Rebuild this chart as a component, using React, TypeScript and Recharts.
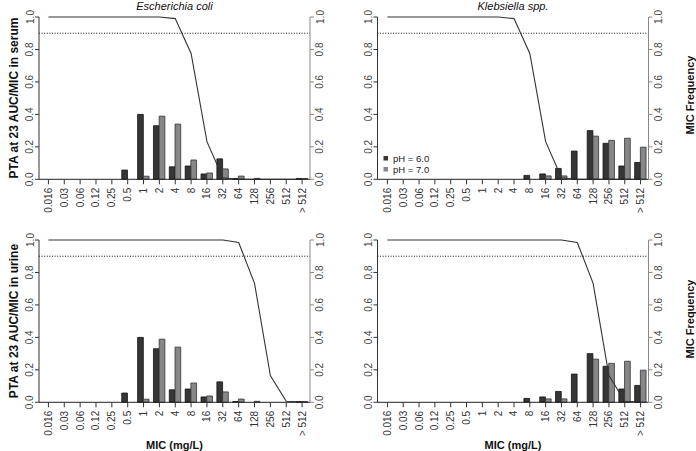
import React from 'react';
import { ComposedChart, Bar, Line, XAxis, YAxis, ReferenceLine, Legend } from 'recharts';

const micLabels = ['0.016', '0.03', '0.06', '0.12', '0.25', '0.5', '1', '2', '4', '8', '16', '32', '64', '128', '256', '512', '> 512'];

const ecoliPh6 = [0, 0, 0, 0, 0, 0.057, 0.4, 0.33, 0.077, 0.082, 0.033, 0.126, 0.005, 0, 0, 0, 0.005];
const ecoliPh7 = [0, 0, 0, 0, 0, 0, 0.019, 0.389, 0.34, 0.119, 0.039, 0.064, 0.02, 0.006, 0, 0, 0.005];
const klebPh6 = [0, 0, 0, 0, 0, 0, 0, 0, 0, 0.024, 0.033, 0.067, 0.174, 0.3, 0.222, 0.082, 0.104];
const klebPh7 = [0, 0, 0, 0, 0, 0, 0, 0, 0, 0, 0.021, 0.021, 0, 0.266, 0.24, 0.253, 0.198];

const ptaSerum = [1, 1, 1, 1, 1, 1, 1, 1, 0.99, 0.775, 0.232, 0.01, 0, 0, 0, 0, 0];
const ptaUrine = [1, 1, 1, 1, 1, 1, 1, 1, 1, 1, 1, 1, 0.985, 0.733, 0.165, 0.006, 0.002];

const yTicks = [0, 0.2, 0.4, 0.6, 0.8, 1];
const seriesNames = ['pH = 6.0', 'pH = 7.0'];

const FONT = '"Liberation Sans", Arial, Helvetica, sans-serif';
const DARK = '#363636';
const GRAY = '#878787';

const buildRows = (ph6: number[], ph7: number[], pta: number[]) =>
  micLabels.map((mic, i) => ({ mic, ph6: ph6[i], ph7: ph7[i], pta: pta[i] }));

const XTick = (props: any) => {
  const { x, y, payload } = props;
  const yy = y + 1.5;
  return (
    <text x={x} y={yy} transform={`rotate(-90, ${x}, ${yy})`} textAnchor="end" dy="0.35em"
      fontSize={10} fill="#333" fontFamily={FONT}>
      {payload.value}
    </text>
  );
};

const YTickLeft = (props: any) => {
  const { x, y, payload } = props;
  const xx = x - 3;
  return (
    <text x={xx} y={y} transform={`rotate(-90, ${xx}, ${y})`} textAnchor="middle" dy="0.35em"
      fontSize={10} fill="#444" fontFamily={FONT}>
      {Number(payload.value).toFixed(1)}
    </text>
  );
};

const YTickRight = (props: any) => {
  const { x, y, payload } = props;
  const xx = x + 4;
  return (
    <text x={xx} y={y} transform={`rotate(-90, ${xx}, ${y})`} textAnchor="middle" dy="0.35em"
      fontSize={10} fill="#444" fontFamily={FONT}>
      {Number(payload.value).toFixed(1)}
    </text>
  );
};

const LegendContent = () => (
  <svg width={80} height={24} style={{ display: 'block' }}>
    {seriesNames.map((n, i) => (
      <g key={n}>
        <rect x={1.5} y={4 + i * 11} width={4.5} height={4.5} fill={i === 0 ? DARK : GRAY} />
        <text x={11} y={6.3 + i * 11} dy="0.35em" fontSize={9.5} fill="#222" fontFamily={FONT}>{n}</text>
      </g>
    ))}
  </svg>
);

type PanelProps = {
  left: number; top: number; width: number; height: number; marginTop: number;
  yLeftW: number; yRightW: number; xH: number; padLeft: number;
  data: any[]; showLegend?: boolean;
};

const Panel = (p: PanelProps) => (
  <div style={{ position: 'absolute', left: p.left, top: p.top, width: p.width, height: p.height }}>
    <ComposedChart width={p.width} height={p.height} data={p.data}
      margin={{ top: p.marginTop, right: 0, bottom: 0, left: 0 }} barSize={5.7} barGap={0}>
      <XAxis dataKey="mic" type="category" interval={0} height={p.xH} padding={{ left: p.padLeft, right: 0 }}
        tick={<XTick />} tickSize={5} tickMargin={2} stroke="#222" tickLine={{ stroke: '#333' }} />
      <YAxis yAxisId="left" orientation="left" type="number" domain={[0, 1]} ticks={yTicks} interval={0}
        width={p.yLeftW} tick={<YTickLeft />} tickSize={4} tickMargin={2} stroke="#333" />
      <YAxis yAxisId="right" orientation="right" type="number" domain={[0, 1]} ticks={yTicks} interval={0}
        width={p.yRightW} tick={<YTickRight />} tickSize={4} tickMargin={2} stroke="#888" />
      <Bar yAxisId="right" dataKey="ph6" name={seriesNames[0]} fill={DARK} stroke="#111" strokeWidth={0.8} isAnimationActive={false} />
      <Bar yAxisId="right" dataKey="ph7" name={seriesNames[1]} fill={GRAY} stroke="#333" strokeWidth={0.8} isAnimationActive={false} />
      <ReferenceLine yAxisId="left" y={0.9} stroke="#111" strokeDasharray="1 1.6" strokeWidth={1} />
      <Line yAxisId="left" type="linear" dataKey="pta" stroke="#333" strokeWidth={1.1} dot={false} isAnimationActive={false} legendType="none" />
      {p.showLegend && (
        <Legend layout="vertical" align="center" verticalAlign="middle" content={<LegendContent />}
          wrapperStyle={{ position: 'absolute', left: 34, top: 152, width: 80, height: 24 }} />
      )}
    </ComposedChart>
  </div>
);

export default function App() {
  const ecoliSerum = buildRows(ecoliPh6, ecoliPh7, ptaSerum);
  const klebSerum = buildRows(klebPh6, klebPh7, ptaSerum);
  const ecoliUrine = buildRows(ecoliPh6, ecoliPh7, ptaUrine);
  const klebUrine = buildRows(klebPh6, klebPh7, ptaUrine);
  return (
    <div style={{ position: 'absolute', left: 0, top: 0, width: 696, height: 451, background: '#fff', fontFamily: FONT }}>
      <Panel left={0} top={0} width={348} height={225} marginTop={17} yLeftW={39} yRightW={38} xH={45.7} padLeft={1.5} data={ecoliSerum} />
      <Panel left={348} top={0} width={348} height={225} marginTop={17} yLeftW={29.5} yRightW={47.5} xH={45.7} padLeft={2} data={klebSerum} showLegend />
      <Panel left={0} top={225} width={348} height={226} marginTop={15} yLeftW={39} yRightW={38} xH={48.7} padLeft={1.5} data={ecoliUrine} />
      <Panel left={348} top={225} width={348} height={226} marginTop={15} yLeftW={29.5} yRightW={47.5} xH={48.7} padLeft={2} data={klebUrine} />
      <svg width={696} height={451} style={{ position: 'absolute', left: 0, top: 0, pointerEvents: 'none' }}>
        <text x={174.5} y={10} textAnchor="middle" fontSize={11} fontStyle="italic" fill="#111" fontFamily={FONT}>Escherichia coli</text>
        <text x={513} y={10} textAnchor="middle" fontSize={11} fontStyle="italic" fill="#111" fontFamily={FONT}>Klebsiella spp.</text>
        <text x={14} y={98} transform="rotate(-90, 14, 98)" textAnchor="middle" dy="0.35em" fontSize={12} fontWeight="bold" fill="#111" fontFamily={FONT}>PTA at 23 AUC/MIC in serum</text>
        <text x={14} y={321} transform="rotate(-90, 14, 321)" textAnchor="middle" dy="0.35em" fontSize={12} fontWeight="bold" fill="#111" fontFamily={FONT}>PTA at 23 AUC/MIC in urine</text>
        <text x={690} y={95} transform="rotate(-90, 690, 95)" textAnchor="middle" dy="0.35em" fontSize={11} fontWeight="bold" fill="#111" fontFamily={FONT}>MIC Frequency</text>
        <text x={690} y={319} transform="rotate(-90, 690, 319)" textAnchor="middle" dy="0.35em" fontSize={11} fontWeight="bold" fill="#111" fontFamily={FONT}>MIC Frequency</text>
        <text x={174.5} y={449} textAnchor="middle" fontSize={11} fontWeight="bold" fill="#111" fontFamily={FONT}>MIC (mg/L)</text>
        <text x={513} y={449} textAnchor="middle" fontSize={11} fontWeight="bold" fill="#111" fontFamily={FONT}>MIC (mg/L)</text>
      </svg>
    </div>
  );
}
